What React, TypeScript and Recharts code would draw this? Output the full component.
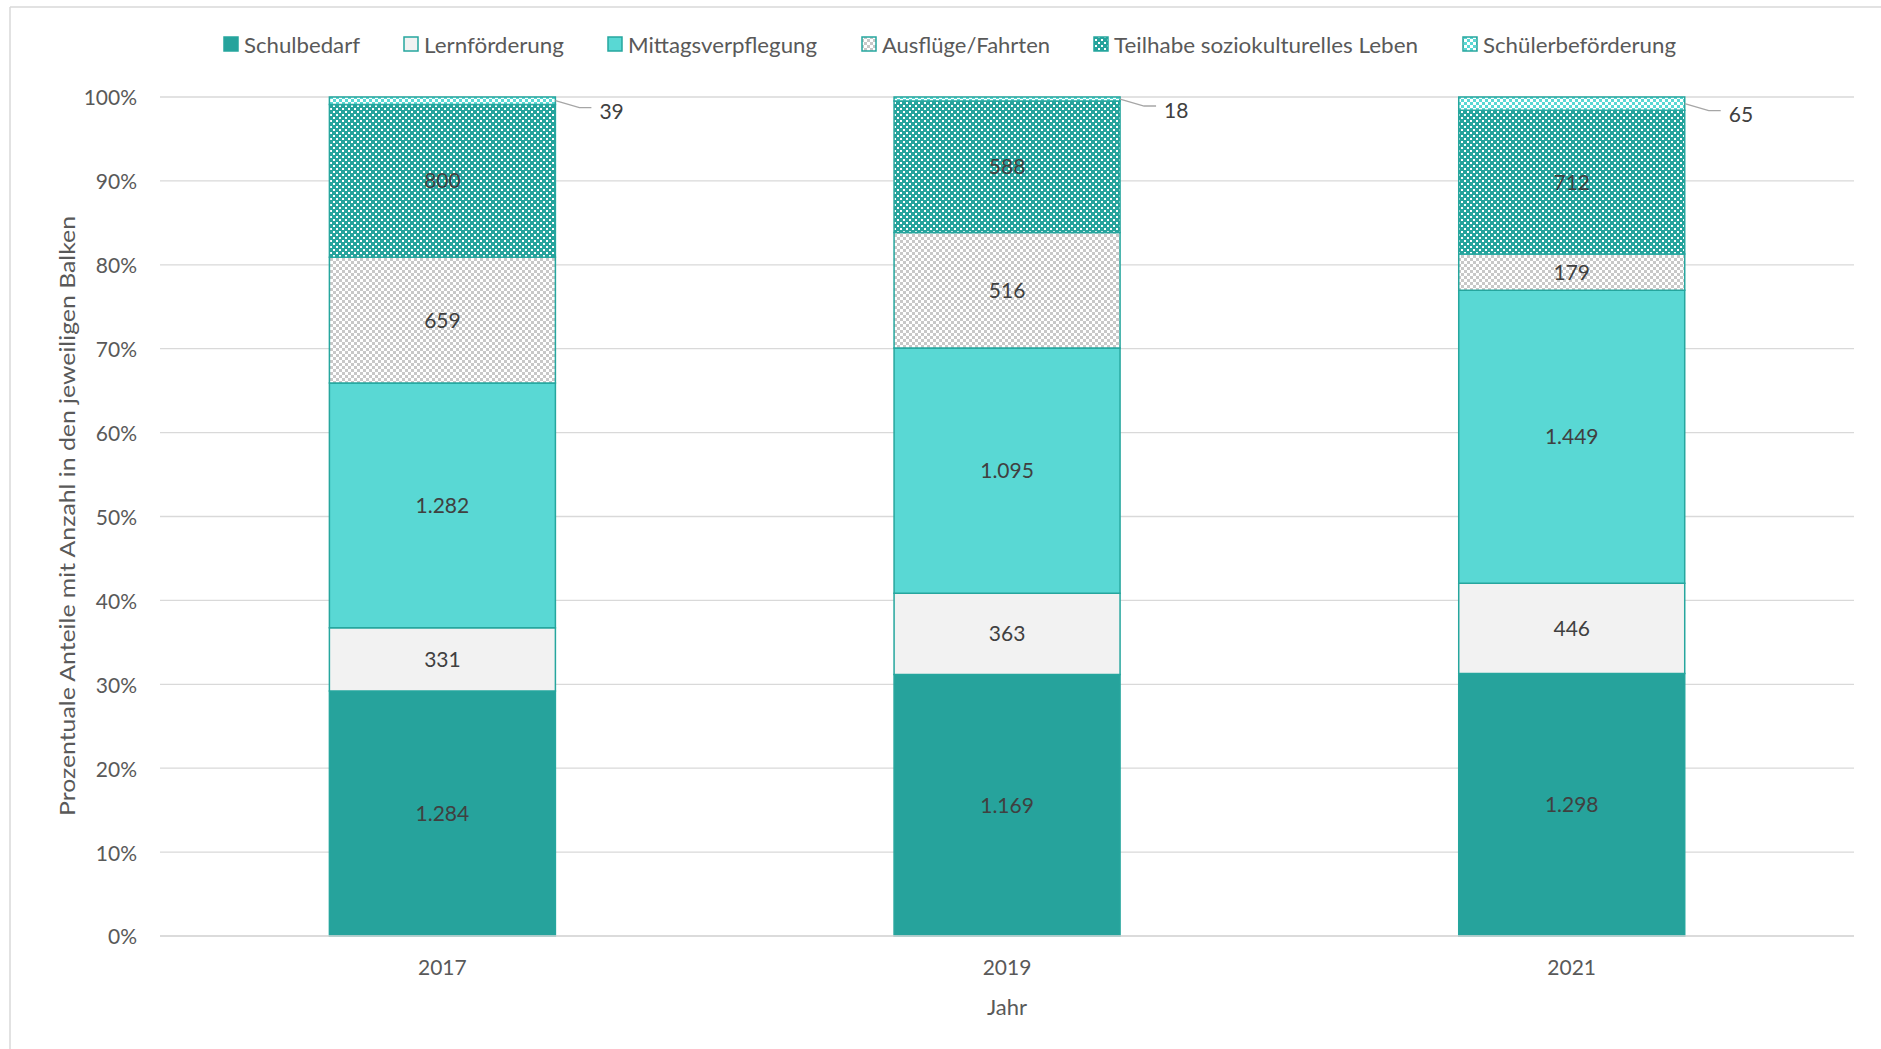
import React from 'react';
import { BarChart, Bar, XAxis, YAxis, CartesianGrid, LabelList } from 'recharts';

const years = ['2017', '2019', '2021'];
const schulbedarf = [1284, 1169, 1298];
const lernfoerderung = [331, 363, 446];
const mittagsverpflegung = [1282, 1095, 1449];
const ausfluege = [659, 516, 179];
const teilhabe = [800, 588, 712];
const schuelerbefoerderung = [39, 18, 65];
const yTicks = [0, 0.1, 0.2, 0.3, 0.4, 0.5, 0.6, 0.7, 0.8, 0.9, 1];

const seriesNames = [
  'Schulbedarf',
  'Lernförderung',
  'Mittagsverpflegung',
  'Ausflüge/Fahrten',
  'Teilhabe soziokulturelles Leben',
  'Schülerbeförderung',
];

const data = years.map((y, i) => ({
  year: y,
  s0: schulbedarf[i],
  s1: lernfoerderung[i],
  s2: mittagsverpflegung[i],
  s3: ausfluege[i],
  s4: teilhabe[i],
  s5: schuelerbefoerderung[i],
}));

const TEAL = '#26A39C';
const TURQ = '#59D8D4';
const EDGE = '#26A69E';
const FONT = 'Lato, "Open Sans", sans-serif';

const fills = [TEAL, '#F2F2F2', TURQ, 'url(#patAus)', 'url(#patTeil)', 'url(#patSch)'];

const fmt = (v: any) => Number(v).toLocaleString('de-DE');

const OutsideLabel = (props: any) => {
  const { x, y, width, height, value } = props;
  const ex = Number(x) + Number(width);
  const mid = Number(y) + Number(height) / 2;
  const ly = mid + 10;
  return (
    <g>
      <path
        d={`M${ex},${mid} L${ex + 24},${ly - 3} L${ex + 36},${ly - 3}`}
        stroke="#A6A6A6"
        strokeWidth={1.3}
        fill="none"
      />
      <text x={ex + 44} y={ly} dominantBaseline="central" fontSize={21} fontFamily={FONT} fill="#404040">
        {fmt(value)}
      </text>
    </g>
  );
};

const legendX = [224, 404, 608, 862, 1094, 1463];
const legendTextEnd = [360, 564, 817, 1050, 1418, 1676];

export default function App() {
  return (
    <div style={{ position: 'absolute', left: 0, top: 0, width: 1881, height: 1049, background: '#fff' }}>
      <BarChart
        width={1881}
        height={1049}
        data={data}
        stackOffset="expand"
        margin={{ top: 97, right: 27, bottom: 53, left: 60 }}
        barCategoryGap="30%"
      >
        <defs>
          <pattern id="patAus" width="6" height="6" patternUnits="userSpaceOnUse">
            <rect width="6" height="6" fill="#FFFFFF" />
            <rect x="0" y="0" width="3" height="3" fill="#C8C8C8" />
            <rect x="3" y="3" width="3" height="3" fill="#C8C8C8" />
          </pattern>
          <pattern id="patTeil" width="6" height="6" patternUnits="userSpaceOnUse">
            <rect width="6" height="6" fill={TEAL} />
            <rect x="0" y="0" width="2" height="2" fill="#FFFFFF" />
            <rect x="3" y="3" width="2" height="2" fill="#FFFFFF" />
          </pattern>
          <pattern id="patSch" width="6" height="6" patternUnits="userSpaceOnUse">
            <rect width="6" height="6" fill="#FFFFFF" />
            <rect x="0" y="0" width="3" height="3" fill={TURQ} />
            <rect x="3" y="3" width="3" height="3" fill={TURQ} />
          </pattern>
        </defs>
        <CartesianGrid vertical={false} stroke="#D9D9D9" strokeWidth={1.3} />
        <XAxis
          dataKey="year"
          height={60}
          tickSize={0}
          tickMargin={24}
          axisLine={{ stroke: '#D9D9D9', strokeWidth: 1.3 }}
          tick={{ fill: '#595959', fontSize: 21, fontFamily: FONT }}
        />
        <YAxis
          width={100}
          domain={[0, 1]}
          ticks={yTicks}
          interval={0}
          tickSize={0}
          tickMargin={23}
          axisLine={false}
          tickFormatter={(v: number) => `${Math.round(v * 100)}%`}
          tick={{ fill: '#595959', fontSize: 21, fontFamily: FONT, dy: 1 }}
        />
        {[0, 1, 2, 3, 4, 5].map((k) => (
          <Bar
            key={k}
            dataKey={`s${k}`}
            name={seriesNames[k]}
            stackId="a"
            fill={fills[k]}
            stroke={EDGE}
            strokeWidth={1.5}
            isAnimationActive={false}
          >
            {k < 5 ? (
              <LabelList
                dataKey={`s${k}`}
                position="center"
                formatter={fmt}
                fill="#404040"
                fontSize={21}
                fontFamily={FONT}
              />
            ) : (
              <LabelList dataKey={`s${k}`} content={OutsideLabel} />
            )}
          </Bar>
        ))}
      </BarChart>
      <svg
        width={1881}
        height={1049}
        style={{ position: 'absolute', left: 0, top: 0, pointerEvents: 'none' }}
      >
        <line x1={10} y1={7} x2={1881} y2={7} stroke="#D9D9D9" strokeWidth={1.5} />
        <line x1={10} y1={7} x2={10} y2={1049} stroke="#D9D9D9" strokeWidth={1.5} />
        {seriesNames.map((n, i) => (
          <g key={n}>
            <rect
              x={legendX[i]}
              y={37}
              width={14}
              height={14}
              fill={fills[i]}
              stroke={EDGE}
              strokeWidth={1.5}
            />
            <text
              x={legendX[i] + 20}
              y={44}
              dominantBaseline="central"
              fontSize={21}
              fontFamily={FONT}
              fill="#595959"
              textLength={legendTextEnd[i] - legendX[i] - 20}
              lengthAdjust="spacingAndGlyphs"
            >
              {n}
            </text>
          </g>
        ))}
        <text
          x={0}
          y={0}
          transform="translate(66,516) rotate(-90)"
          textAnchor="middle"
          dominantBaseline="central"
          fontSize={21}
          fontFamily={FONT}
          fill="#595959"
          textLength={600}
          lengthAdjust="spacingAndGlyphs"
        >
          Prozentuale Anteile mit Anzahl in den jeweiligen Balken
        </text>
        <text
          x={1007}
          y={1006}
          textAnchor="middle"
          dominantBaseline="central"
          fontSize={22}
          fontFamily={FONT}
          fill="#595959"
        >
          Jahr
        </text>
      </svg>
    </div>
  );
}
